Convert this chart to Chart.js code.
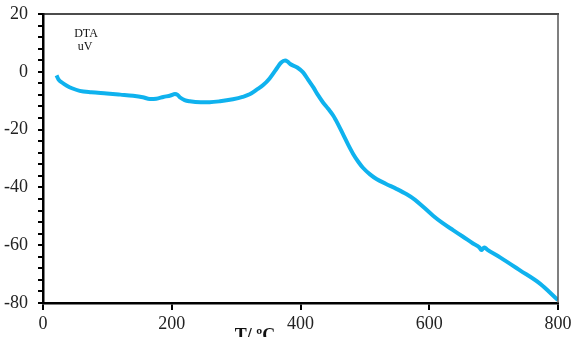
<!DOCTYPE html>
<html>
<head>
<meta charset="utf-8">
<script src="https://cdn.jsdelivr.net/npm/chart.js@4/dist/chart.umd.min.js"></script>
<style>
  html, body { margin: 0; padding: 0; background: #fff; }
  canvas { display: block; }
</style>
</head>
<body>
<canvas id="c" width="588" height="355"></canvas>
<script>
const temperature = [21,24,30,37,45,57,75,99,120,140,155,166,176,187,198,205,209,213,220,228,245,259,275,295,310,321,332,342,352,362,370,376,380,384,395,404,412,420,427,435,443,451,458,466,474,482,490,497,508,518,533,549,565,578,590,606,621,637,652,668,678,681,684,686,690,710,741,772,800];
const dta = [-1.2,-2.6,-3.8,-4.8,-5.7,-6.6,-7.1,-7.5,-7.9,-8.3,-8.8,-9.4,-9.3,-8.7,-8.2,-7.7,-8.0,-8.9,-9.8,-10.2,-10.5,-10.5,-10.2,-9.5,-8.7,-7.8,-6.2,-4.6,-2.3,0.8,3.2,3.9,3.5,2.7,1.5,-0.2,-2.8,-5.4,-8.0,-10.6,-12.8,-15.2,-18.0,-21.6,-25.2,-28.5,-31.2,-33.2,-35.5,-37.1,-38.8,-40.5,-42.4,-44.3,-46.6,-49.8,-52.4,-54.8,-57.0,-59.4,-60.8,-61.7,-61.0,-60.8,-61.5,-64.2,-68.7,-73.3,-79.0];
const xTicks = [0, 200, 400, 600, 800];
const yLabels = [-80, -60, -40, -20, 0, 20];
const xTitle = "T/ ºC";
const seriesLabel = ["DTA", "uV"];

const points = temperature.map((t, i) => ({x: t, y: dta[i]}));
const serif = "'Liberation Serif', 'Times New Roman', serif";

const decor = {
  id: 'decor',
  afterDraw(chart) {
    const ctx = chart.ctx;
    const a = chart.chartArea;
    ctx.save();
    ctx.strokeStyle = '#111';
    ctx.lineWidth = 1.5;
    ctx.beginPath();
    ctx.moveTo(a.left, a.top);
    ctx.lineTo(a.right + 1, a.top);
    ctx.stroke();
    ctx.strokeStyle = '#555';
    ctx.lineWidth = 1.5;
    ctx.beginPath();
    ctx.moveTo(a.right, a.top);
    ctx.lineTo(a.right, a.bottom);
    ctx.stroke();
    ctx.fillStyle = '#111';
    ctx.font = "12px " + serif;
    ctx.textAlign = 'center';
    ctx.textBaseline = 'alphabetic';
    ctx.fillText(seriesLabel[0], 86, 37);
    ctx.fillText(seriesLabel[1], 85, 50);
    ctx.beginPath();
    ctx.rect(0, 0, chart.width, 337);
    ctx.clip();
    ctx.font = "bold 18px " + serif;
    ctx.fillStyle = '#111';
    ctx.fillText(xTitle, 255, 341);
    ctx.restore();
  }
};

new Chart(document.getElementById('c'), {
  type: 'line',
  data: {
    datasets: [{
      data: points,
      borderColor: '#0FB2EE',
      borderWidth: 4,
      pointRadius: 0,
      cubicInterpolationMode: 'monotone',
      fill: false
    }]
  },
  options: {
    responsive: false,
    animation: false,
    layout: { padding: { left: 0, top: 14, right: 30, bottom: 0 } },
    plugins: { legend: { display: false }, tooltip: { enabled: false }, title: { display: false } },
    scales: {
      x: {
        type: 'linear',
        min: xTicks[0],
        max: xTicks[xTicks.length - 1],
        afterBuildTicks(scale) { scale.ticks = xTicks.map(v => ({value: v})); },
        afterFit(scale) { scale.height = 52; scale.paddingLeft = 0; scale.paddingRight = 0; },
        ticks: { color: '#222', font: { family: serif, size: 18 }, padding: 3, maxRotation: 0, autoSkip: false },
        grid: { drawOnChartArea: false, drawTicks: true, tickLength: 7, color: '#000', lineWidth: 2 },
        border: { color: '#000', width: 2.5 }
      },
      y: {
        min: yLabels[0],
        max: yLabels[yLabels.length - 1],
        afterFit(scale) { scale.width = 43; scale.paddingTop = 0; scale.paddingBottom = 0; },
        ticks: {
          stepSize: 4,
          autoSkip: false,
          color: '#222',
          font: { family: serif, size: 18 },
          padding: 10,
          callback: v => (yLabels.includes(v) ? String(v) : '')
        },
        grid: { drawOnChartArea: false, drawTicks: true, tickLength: 5, color: '#000', lineWidth: 2 },
        border: { color: '#000', width: 2.5 }
      }
    }
  },
  plugins: [decor]
});
</script>
</body>
</html>
